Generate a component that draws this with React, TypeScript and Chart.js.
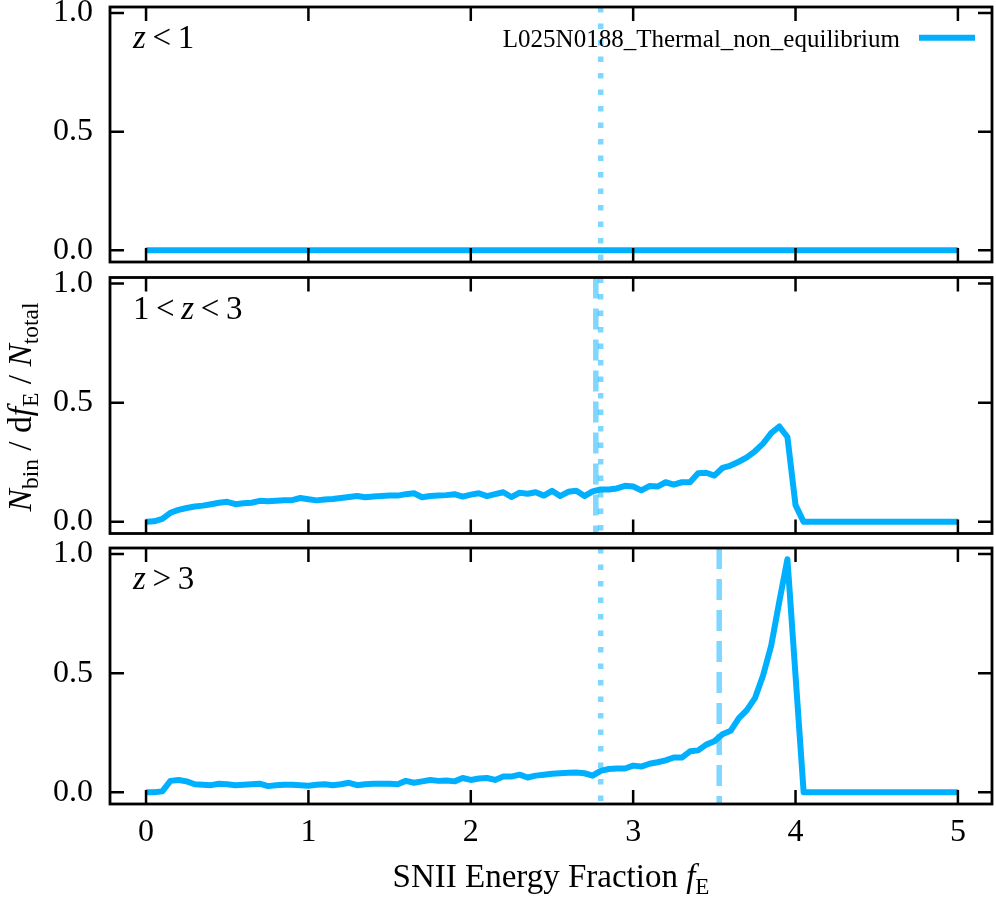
import React, { useEffect, useRef } from 'react';
import { Chart, registerables } from 'chart.js';

Chart.register(...registerables);

// SNII energy fraction bin centres
const fE = [
  0.0, 0.05, 0.1, 0.15, 0.2, 0.25, 0.3, 0.35, 0.4, 0.45,
  0.5, 0.55, 0.6, 0.65, 0.7, 0.75, 0.8, 0.85, 0.9, 0.95,
  1.0, 1.05, 1.1, 1.15, 1.2, 1.25, 1.3, 1.35, 1.4, 1.45,
  1.5, 1.55, 1.6, 1.65, 1.7, 1.75, 1.8, 1.85, 1.9, 1.95,
  2.0, 2.05, 2.1, 2.15, 2.2, 2.25, 2.3, 2.35, 2.4, 2.45,
  2.5, 2.55, 2.6, 2.65, 2.7, 2.75, 2.8, 2.85, 2.9, 2.95,
  3.0, 3.05, 3.1, 3.15, 3.2, 3.25, 3.3, 3.35, 3.4, 3.45,
  3.5, 3.55, 3.6, 3.65, 3.7, 3.75, 3.8, 3.85, 3.9, 3.95,
  4.0, 4.05, 4.1, 4.15, 4.2, 4.25, 4.3, 4.35, 4.4, 4.45,
  4.5, 4.55, 4.6, 4.65, 4.7, 4.75, 4.8, 4.85, 4.9, 4.95,
  5.0,
];

// z < 1
const nLowZ = [
  0, 0, 0, 0, 0, 0, 0, 0, 0, 0,
  0, 0, 0, 0, 0, 0, 0, 0, 0, 0,
  0, 0, 0, 0, 0, 0, 0, 0, 0, 0,
  0, 0, 0, 0, 0, 0, 0, 0, 0, 0,
  0, 0, 0, 0, 0, 0, 0, 0, 0, 0,
  0, 0, 0, 0, 0, 0, 0, 0, 0, 0,
  0, 0, 0, 0, 0, 0, 0, 0, 0, 0,
  0, 0, 0, 0, 0, 0, 0, 0, 0, 0,
  0, 0, 0, 0, 0, 0, 0, 0, 0, 0,
  0, 0, 0, 0, 0, 0, 0, 0, 0, 0,
  0,
];

// 1 < z < 3
const nMidZ = [
  0.000, 0.002, 0.012, 0.038, 0.050, 0.058, 0.064, 0.068, 0.074, 0.080,
  0.084, 0.074, 0.078, 0.080, 0.088, 0.086, 0.088, 0.090, 0.091, 0.100,
  0.095, 0.090, 0.094, 0.096, 0.100, 0.104, 0.108, 0.103, 0.106, 0.108,
  0.110, 0.110, 0.116, 0.120, 0.103, 0.108, 0.110, 0.112, 0.116, 0.106,
  0.114, 0.120, 0.108, 0.116, 0.124, 0.104, 0.122, 0.118, 0.124, 0.110,
  0.130, 0.108, 0.126, 0.130, 0.108, 0.128, 0.136, 0.136, 0.140, 0.151,
  0.148, 0.132, 0.150, 0.148, 0.166, 0.156, 0.166, 0.166, 0.204, 0.206,
  0.194, 0.226, 0.236, 0.252, 0.270, 0.296, 0.328, 0.372, 0.400, 0.356,
  0.070, 0, 0, 0, 0, 0, 0, 0, 0, 0,
  0, 0, 0, 0, 0, 0, 0, 0, 0, 0,
  0,
];

// z > 3
const nHighZ = [
  0.000, 0.000, 0.004, 0.048, 0.052, 0.046, 0.034, 0.032, 0.030, 0.036,
  0.034, 0.030, 0.032, 0.034, 0.036, 0.026, 0.030, 0.032, 0.032, 0.030,
  0.028, 0.032, 0.034, 0.030, 0.034, 0.040, 0.030, 0.034, 0.036, 0.036,
  0.036, 0.034, 0.048, 0.040, 0.046, 0.052, 0.048, 0.050, 0.046, 0.060,
  0.052, 0.058, 0.060, 0.052, 0.066, 0.066, 0.074, 0.062, 0.070, 0.074,
  0.078, 0.080, 0.082, 0.083, 0.080, 0.070, 0.090, 0.098, 0.100, 0.100,
  0.112, 0.108, 0.120, 0.126, 0.134, 0.146, 0.146, 0.172, 0.176, 0.200,
  0.214, 0.244, 0.258, 0.310, 0.345, 0.395, 0.490, 0.615, 0.800, 0.978,
  0.490, 0, 0, 0, 0, 0, 0, 0, 0, 0,
  0, 0, 0, 0, 0, 0, 0, 0, 0, 0,
  0,
];

const seriesName = 'L025N0188_Thermal_non_equilibrium';
const medianAll = 2.8; // dotted, same in every panel
const medianPanel = [null, 2.77, 3.53]; // dashed, per redshift bin

const xTicks = [0, 1, 2, 3, 4, 5];
const yTicks = [0, 0.5, 1.0];

const X_MIN = -0.222;
const X_MAX = 5.21;
const Y_MIN = -0.049;
const Y_MAX = 1.025;

const LINE = '#00b0ff';
const LIGHT = 'rgba(0,176,255,0.5)';
const FONT = '"Liberation Serif", "Times New Roman", serif';

type Seg = { t: string; it?: boolean; sub?: boolean };

const panelLabels: Seg[][] = [
  [{ t: 'z', it: true }, { t: '\u2009<\u20091' }],
  [{ t: '1\u2009<\u2009' }, { t: 'z', it: true }, { t: '\u2009<\u20093' }],
  [{ t: 'z', it: true }, { t: '\u2009>\u20093' }],
];

const yTitle: Seg[] = [
  { t: 'N', it: true }, { t: 'bin', sub: true }, { t: ' / d' }, { t: 'f', it: true },
  { t: 'E', sub: true }, { t: ' / ' }, { t: 'N', it: true }, { t: 'total', sub: true },
];
const xTitle: Seg[] = [{ t: 'SNII Energy Fraction ' }, { t: 'f', it: true }, { t: 'E', sub: true }];

const PANELS = [
  { top: 0, height: 270, padTop: 7, padBottom: 8, series: nLowZ },
  { top: 270, height: 270, padTop: 7.5, padBottom: 6.5, series: nMidZ },
  { top: 540, height: 360, padTop: 8, padBottom: 0, series: nHighZ },
];

function segFont(s: Seg, size: number) {
  return `${s.it ? 'italic ' : ''}${s.sub ? size * 0.7 : size}px ${FONT}`;
}

function drawRich(ctx: CanvasRenderingContext2D, segs: Seg[], x: number, y: number, size: number, align: string) {
  const widths = segs.map((s) => {
    ctx.font = segFont(s, size);
    return ctx.measureText(s.t).width;
  });
  const total = widths.reduce((a, b) => a + b, 0);
  let cx = align === 'center' ? x - total / 2 : align === 'right' ? x - total : x;
  ctx.textAlign = 'left';
  ctx.textBaseline = 'alphabetic';
  segs.forEach((s, i) => {
    ctx.font = segFont(s, size);
    ctx.fillText(s.t, cx, s.sub ? y + size * 0.22 : y);
    cx += widths[i];
  });
}

function Panel({ idx }: { idx: number }) {
  const canvasRef = useRef<HTMLCanvasElement>(null);
  const chartRef = useRef<Chart | null>(null);
  const p = PANELS[idx];
  const isBottom = idx === PANELS.length - 1;

  useEffect(() => {
    if (!canvasRef.current) return;
    if (chartRef.current) chartRef.current.destroy();

    const extras = {
      id: 'extras' + idx,
      afterDatasetsDraw(chart: any) {
        const { ctx, chartArea: a, scales } = chart;
        const xs = scales.x;
        const ys = scales.y;
        ctx.save();
        // inward ticks on all four sides
        ctx.strokeStyle = '#000';
        ctx.lineWidth = 2.5;
        ctx.beginPath();
        xTicks.forEach((v) => {
          const px = xs.getPixelForValue(v);
          ctx.moveTo(px, a.top);
          ctx.lineTo(px, a.top + 14);
          ctx.moveTo(px, a.bottom);
          ctx.lineTo(px, a.bottom - 14);
        });
        yTicks.forEach((v) => {
          const py = ys.getPixelForValue(v);
          ctx.moveTo(a.left, py);
          ctx.lineTo(a.left + 14, py);
          ctx.moveTo(a.right, py);
          ctx.lineTo(a.right - 14, py);
        });
        ctx.stroke();
        ctx.lineWidth = 2.8;
        ctx.strokeRect(a.left, a.top, a.right - a.left, a.bottom - a.top);

        ctx.fillStyle = '#000';
        drawRich(ctx, panelLabels[idx], a.left + 23, a.top + 41, 33, 'left');

        if (idx === 0) {
          ctx.font = `25px ${FONT}`;
          ctx.textAlign = 'right';
          ctx.textBaseline = 'alphabetic';
          ctx.fillText(seriesName, 900, 47);
          ctx.strokeStyle = LINE;
          ctx.lineWidth = 6;
          ctx.beginPath();
          ctx.moveTo(919, 37.7);
          ctx.lineTo(975, 37.7);
          ctx.stroke();
        }
        if (idx === 1) {
          ctx.save();
          ctx.translate(31, 137);
          ctx.rotate(-Math.PI / 2);
          drawRich(ctx, yTitle, 0, 0, 33.5, 'center');
          ctx.restore();
        }
        if (isBottom) {
          drawRich(ctx, xTitle, (a.left + a.right) / 2, a.bottom + 83, 33, 'center');
        }
        ctx.restore();
      },
    };

    const datasets: any[] = [
      {
        label: seriesName,
        data: fE.map((x, i) => ({ x, y: p.series[i] })),
        borderColor: LINE,
        borderWidth: 6,
        pointRadius: 0,
        borderJoinStyle: 'round',
        tension: 0,
      },
      {
        label: 'median all',
        data: [{ x: medianAll, y: Y_MAX }, { x: medianAll, y: Y_MIN }],
        borderColor: LIGHT,
        borderWidth: 5.5,
        borderDash: [5.5, 11],
        pointRadius: 0,
      },
    ];
    const m = medianPanel[idx];
    if (m !== null) {
      datasets.push({
        label: 'median bin',
        data: [{ x: m, y: Y_MAX }, { x: m, y: Y_MIN }],
        borderColor: LIGHT,
        borderWidth: 5.5,
        borderDash: [21, 10],
        pointRadius: 0,
      });
    }

    Chart.defaults.font.family = FONT;
    chartRef.current = new Chart(canvasRef.current, {
      type: 'line',
      data: { datasets },
      plugins: [extras],
      options: {
        animation: false,
        responsive: true,
        maintainAspectRatio: false,
        layout: { padding: { left: 10, right: 4, top: p.padTop, bottom: p.padBottom } },
        plugins: { legend: { display: false }, tooltip: { enabled: false } },
        scales: {
          x: {
            type: 'linear',
            min: X_MIN,
            max: X_MAX,
            display: isBottom,
            grid: { display: false, drawTicks: false },
            border: { display: false },
            afterBuildTicks: (s: any) => {
              s.ticks = xTicks.map((v) => ({ value: v }));
            },
            afterFit: (s: any) => {
              if (!isBottom) return;
              s.height = 96;
              s.paddingLeft = 0;
              s.paddingRight = 0;
            },
            ticks: {
              color: '#000',
              font: { size: 32 },
              padding: 9,
              maxRotation: 0,
              autoSkip: false,
              callback: (v: any) => String(v),
            },
          },
          y: {
            type: 'linear',
            min: Y_MIN,
            max: Y_MAX,
            grid: { display: false, drawTicks: false },
            border: { display: false },
            afterBuildTicks: (s: any) => {
              s.ticks = yTicks.map((v) => ({ value: v }));
            },
            afterFit: (s: any) => {
              s.width = 100;
              s.paddingTop = 0;
              s.paddingBottom = 0;
            },
            ticks: {
              color: '#000',
              font: { size: 32 },
              padding: 17,
              autoSkip: false,
              callback: (v: any) => Number(v).toFixed(1),
            },
          },
        },
      } as any,
    });

    return () => {
      if (chartRef.current) {
        chartRef.current.destroy();
        chartRef.current = null;
      }
    };
  }, [idx]);

  return (
    <div style={{ position: 'absolute', left: 0, top: p.top, width: 996, height: p.height }}>
      <canvas ref={canvasRef} />
    </div>
  );
}

export default function App() {
  return (
    <div style={{ position: 'absolute', left: 0, top: 0, width: 996, height: 900, background: '#fff' }}>
      {PANELS.map((_, i) => (
        <Panel key={i} idx={i} />
      ))}
    </div>
  );
}
